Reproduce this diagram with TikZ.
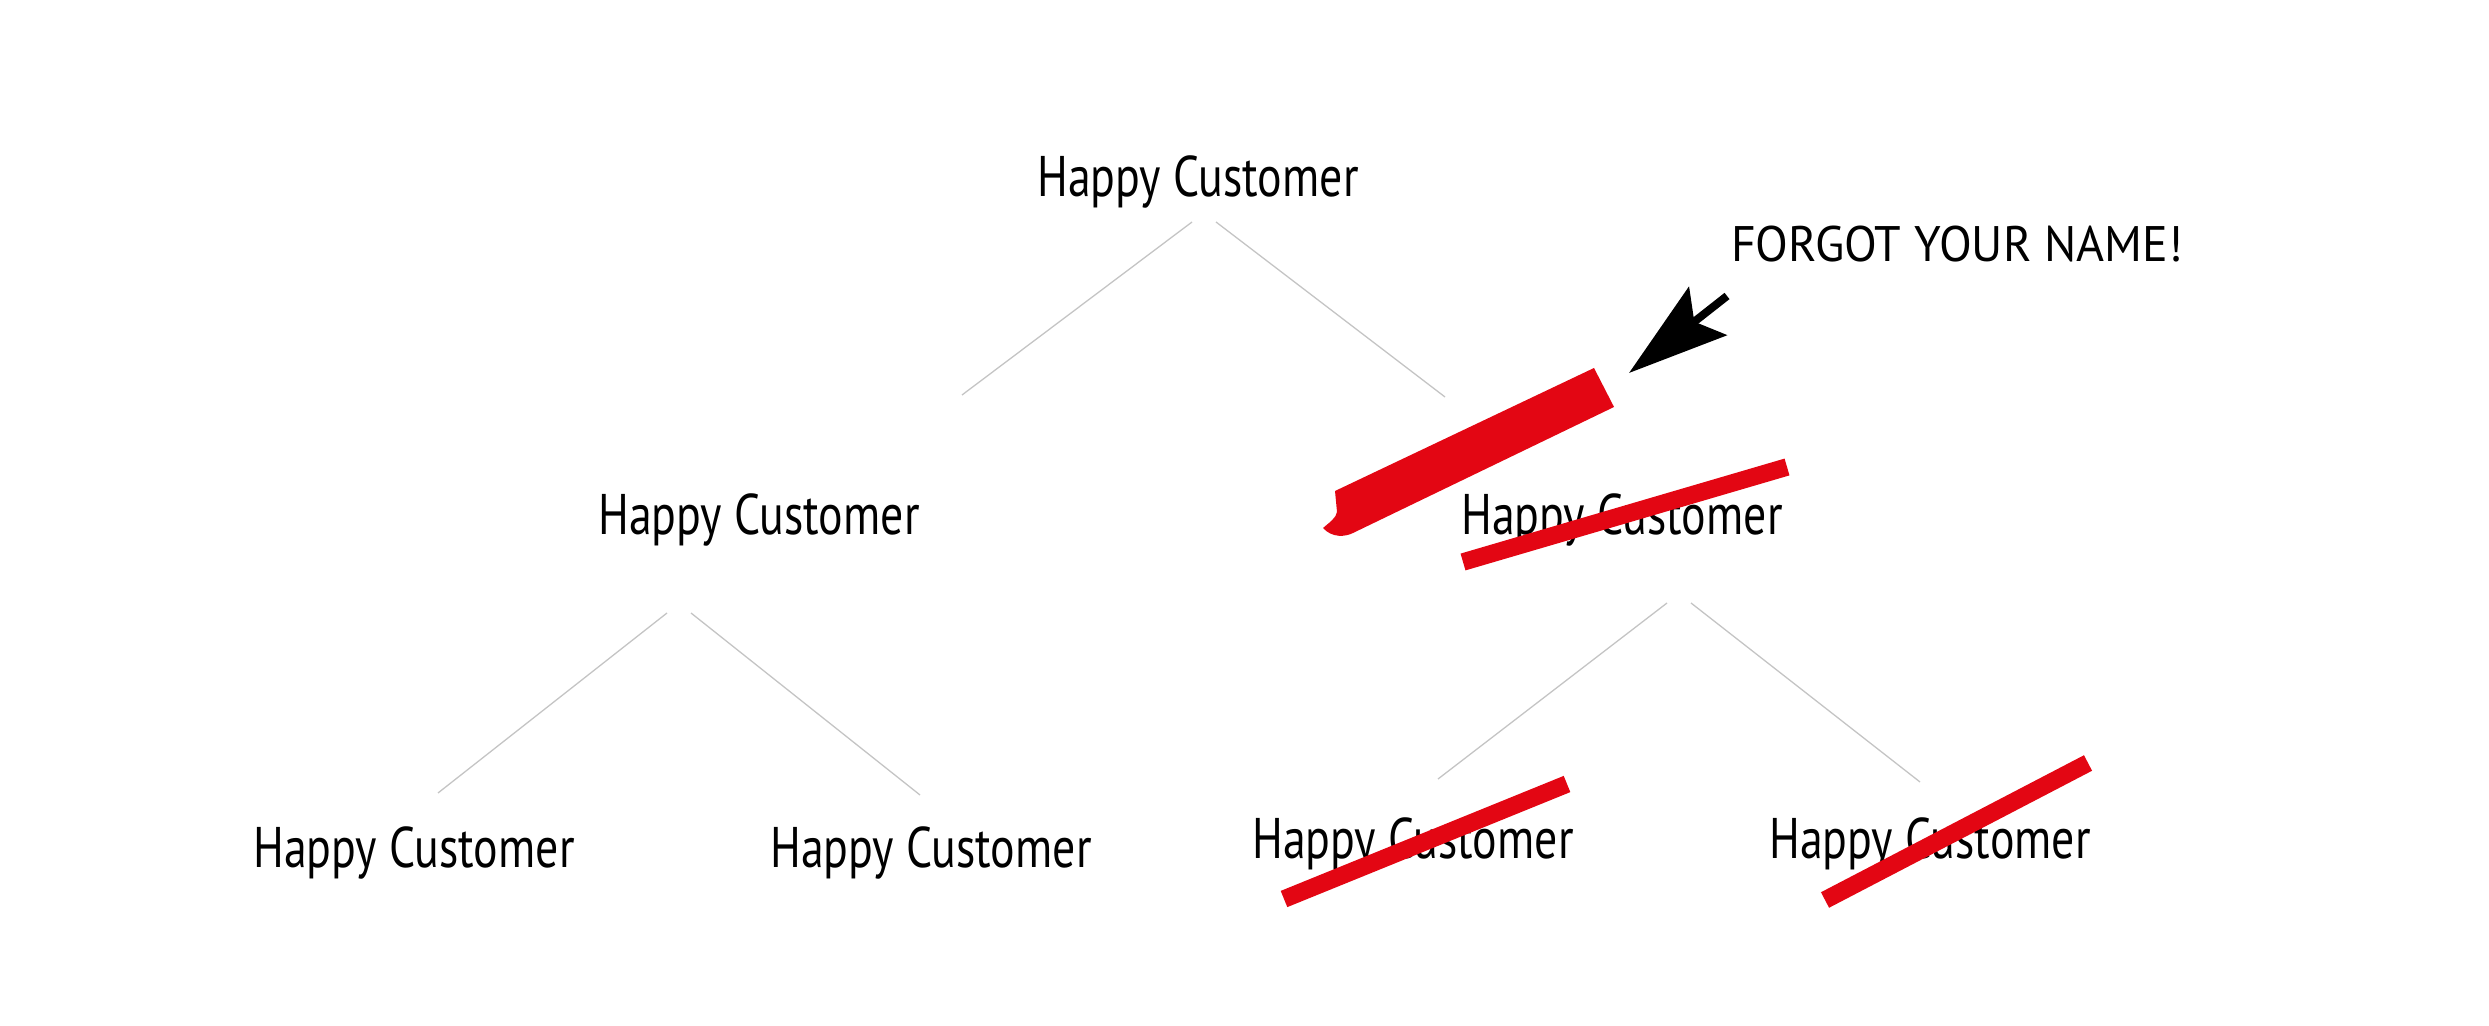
\documentclass[tikz,border=0pt]{standalone}
\usepackage{fontspec}
\usepackage{xcolor}
\usetikzlibrary{arrows.meta}
\newfontfamily\handfont[FakeStretch=0.8]{PT Sans}
\newfontfamily\notefont[FakeStretch=0.96]{PT Sans}
\definecolor{markred}{HTML}{E30613}
\definecolor{branchgray}{HTML}{C4C4C4}

\begin{document}
\begin{tikzpicture}[
    customer/.style={anchor=base, inner sep=0pt, font=\handfont\fontsize{16.3}{19}\selectfont},
    branch/.style={draw=branchgray, line width=0.13mm},
    strike/.style={draw=markred, line width=1.75mm},
  ]
  \useasboundingbox (0,0) rectangle (24.89,-10.26);

  % Customers
  \node[customer] (top) at (11.98,-1.97) {Happy Customer};
  \node[customer] (l)   at (7.59,-5.35)  {Happy Customer};
  \node[customer] (r)   at (16.22,-5.35) {Happy Customer};
  \node[customer] (ll)  at (4.14,-8.67)  {Happy Customer};
  \node[customer] (lr)  at (9.31,-8.67)  {Happy Customer};
  \node[customer] (rl)  at (14.13,-8.58) {Happy Customer};
  \node[customer] (rr)  at (19.30,-8.58) {Happy Customer};

  % Branches
  \draw[branch] ([shift={(-0.06,-0.25)}]top.base) -- ([shift={(2.03,1.40)}]l.base);
  \draw[branch] ([shift={(0.18,-0.25)}]top.base) -- ([shift={(-1.77,1.38)}]r.base);
  \draw[branch] ([shift={(-0.92,-0.78)}]l.base) -- ([shift={(0.24,0.74)}]ll.base);
  \draw[branch] ([shift={(-0.68,-0.78)}]l.base) -- ([shift={(-0.11,0.72)}]lr.base);
  \draw[branch] ([shift={(0.45,-0.68)}]r.base) -- ([shift={(0.25,0.79)}]rl.base);
  \draw[branch] ([shift={(0.69,-0.68)}]r.base) -- ([shift={(-0.10,0.76)}]rr.base);

  % Crossed out
  \draw[strike] (14.63,-5.62) -- (17.87,-4.67);
  \draw[strike] (12.84,-8.99) -- (15.67,-7.84);
  \draw[strike] (18.25,-9.00) -- (20.88,-7.63);

  % Marker stroke
  \fill[markred] (13.35,-4.91) -- (15.94,-3.68) -- (16.14,-4.07) -- (13.53,-5.33)
    .. controls (13.45,-5.37) and (13.32,-5.38) .. (13.23,-5.28)
    .. controls (13.30,-5.22) and (13.36,-5.18) .. (13.37,-5.12) -- cycle;

  % Note
  \node[anchor=base, inner sep=0pt, font=\notefont\fontsize{14.2}{17}\selectfont] (note)
    at (19.57,-2.62) {FORGOT YOUR NAME!};
  \coordinate (arrowtail) at (17.27,-2.96);
  \coordinate (arrowtip) at (16.29,-3.73);
  \draw[line width=0.8mm, -{Stealth[length=10mm,width=6.1mm,inset=1.7mm]}] (arrowtail) -- (arrowtip);
\end{tikzpicture}
\end{document}
